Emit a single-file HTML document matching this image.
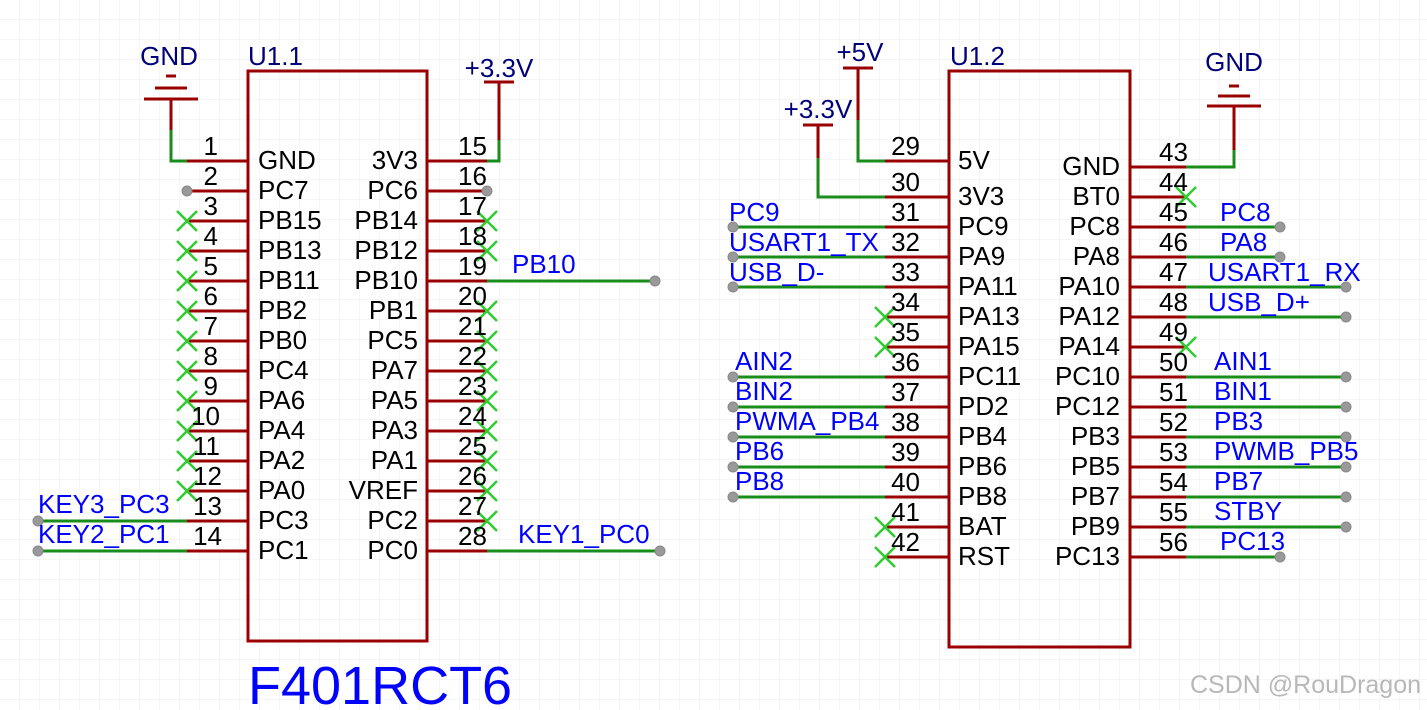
<!DOCTYPE html>
<html><head><meta charset="utf-8"><style>
html,body{margin:0;padding:0;background:#fff;}
svg{display:block;}
text{font-family:"Liberation Sans",sans-serif;}
.n{font-size:26px;fill:#000;}
.b{font-size:26px;fill:#0000ff;}
.p{font-size:26px;fill:#00007a;}
</style></head><body>
<svg width="1427" height="710" viewBox="0 0 1427 710" xmlns="http://www.w3.org/2000/svg">
<defs><pattern id="g" width="20" height="20" patternUnits="userSpaceOnUse"><path d="M20 0V20H0" fill="none" stroke="#ececec" stroke-width="1"/></pattern></defs>
<rect width="1427" height="710" fill="url(#g)"/>
<g stroke="#9b0000" stroke-width="3" fill="none">
<rect x="248" y="71" width="179" height="570"/>
<rect x="949" y="71" width="181" height="576"/>
<path d="M187 161H248M187 191H248M187 221H248M187 251H248M187 281H248M187 311H248M187 341H248M187 371H248M187 401H248M187 431H248M187 461H248M187 491H248M187 521H248M187 551H248"/>
<path d="M427 161H487M427 191H487M427 221H487M427 251H487M427 281H487M427 311H487M427 341H487M427 371H487M427 401H487M427 431H487M427 461H487M427 491H487M427 521H487M427 551H487"/>
<path d="M885 161H949M885 197H949M885 227H949M885 257H949M885 287H949M885 317H949M885 347H949M885 377H949M885 407H949M885 437H949M885 467H949M885 497H949M885 527H949M885 557H949"/>
<path d="M1130 167H1186M1130 197H1186M1130 227H1186M1130 257H1186M1130 287H1186M1130 317H1186M1130 347H1186M1130 377H1186M1130 407H1186M1130 437H1186M1130 467H1186M1130 497H1186M1130 527H1186M1130 557H1186"/>
<path d="M166 76H176M155 88H187M144 99H198M171 99V130"/>
<path d="M484 82H514M499 82V140"/>
<path d="M843 68H873M858 68V120"/>
<path d="M803 125H833M818 125V158"/>
<path d="M1229 86H1239M1218 96H1250M1207 106H1261M1234 106V150"/>
</g>
<g stroke="#1a8c1a" stroke-width="3" fill="none">
<path d="M171 130V161H187"/>
<path d="M499 140V161H487"/>
<path d="M858 120V161H885"/>
<path d="M818 158V197H885"/>
<path d="M1234 150V167H1186"/>
<path d="M38 521H187M38 551H187"/>
<path d="M487 281H655M487 551H660"/>
<path d="M733 227H885M733 257H885M733 287H885M733 377H885M733 407H885M733 437H885M733 467H885M733 497H885"/>
<path d="M1186 227H1280M1186 257H1280M1186 287H1346M1186 317H1346M1186 377H1346M1186 407H1346M1186 437H1346M1186 467H1346M1186 497H1346M1186 527H1346M1186 557H1280"/>
</g>
<g stroke="#2ecc2e" stroke-width="2.5">
<path d="M177 211l20 20m0-20l-20 20M177 241l20 20m0-20l-20 20M177 271l20 20m0-20l-20 20M177 301l20 20m0-20l-20 20M177 331l20 20m0-20l-20 20M177 361l20 20m0-20l-20 20M177 391l20 20m0-20l-20 20M177 421l20 20m0-20l-20 20M177 451l20 20m0-20l-20 20M177 481l20 20m0-20l-20 20"/>
<path d="M477 211l20 20m0-20l-20 20M477 241l20 20m0-20l-20 20M477 301l20 20m0-20l-20 20M477 331l20 20m0-20l-20 20M477 361l20 20m0-20l-20 20M477 391l20 20m0-20l-20 20M477 421l20 20m0-20l-20 20M477 451l20 20m0-20l-20 20M477 481l20 20m0-20l-20 20M477 511l20 20m0-20l-20 20"/>
<path d="M875 307l20 20m0-20l-20 20M875 337l20 20m0-20l-20 20M875 517l20 20m0-20l-20 20M875 547l20 20m0-20l-20 20"/>
<path d="M1176 187l20 20m0-20l-20 20M1176 337l20 20m0-20l-20 20"/>
</g>
<g fill="#999" stroke="#888" stroke-width="1">
<circle cx="187" cy="191" r="5"/><circle cx="487" cy="191" r="5"/>
<circle cx="38" cy="521" r="5"/><circle cx="38" cy="551" r="5"/>
<circle cx="655" cy="281" r="5"/><circle cx="660" cy="551" r="5"/>
<circle cx="733" cy="227" r="5"/><circle cx="733" cy="257" r="5"/><circle cx="733" cy="287" r="5"/>
<circle cx="733" cy="377" r="5"/><circle cx="733" cy="407" r="5"/><circle cx="733" cy="437" r="5"/><circle cx="733" cy="467" r="5"/><circle cx="733" cy="497" r="5"/>
<circle cx="1280" cy="227" r="5"/><circle cx="1280" cy="257" r="5"/><circle cx="1346" cy="287" r="5"/><circle cx="1346" cy="317" r="5"/>
<circle cx="1346" cy="377" r="5"/><circle cx="1346" cy="407" r="5"/><circle cx="1346" cy="437" r="5"/><circle cx="1346" cy="467" r="5"/><circle cx="1346" cy="497" r="5"/><circle cx="1346" cy="527" r="5"/><circle cx="1280" cy="557" r="5"/>
</g>
<g>
<text x="169" y="65" text-anchor="middle" class="p">GND</text>
<text x="499" y="77" text-anchor="middle" class="p">+3.3V</text>
<text x="860" y="61" text-anchor="middle" class="p">+5V</text>
<text x="818" y="118" text-anchor="middle" class="p">+3.3V</text>
<text x="1234" y="71" text-anchor="middle" class="p">GND</text>
<text x="248" y="65" class="p">U1.1</text>
<text x="950" y="65" class="p">U1.2</text>
</g>
<g class="n" text-anchor="end">
<text x="218" y="155">1</text><text x="218" y="185">2</text><text x="218" y="215">3</text><text x="218" y="245">4</text><text x="218" y="275">5</text><text x="218" y="305">6</text><text x="218" y="335">7</text><text x="218" y="365">8</text><text x="218" y="395">9</text><text x="220" y="425">10</text><text x="220" y="455">11</text><text x="222" y="485">12</text><text x="222" y="515">13</text><text x="222" y="545">14</text>
<text x="418" y="169">3V3</text><text x="418" y="199">PC6</text><text x="418" y="229">PB14</text><text x="418" y="259">PB12</text><text x="418" y="289">PB10</text><text x="418" y="319">PB1</text><text x="418" y="349">PC5</text><text x="418" y="379">PA7</text><text x="418" y="409">PA5</text><text x="418" y="439">PA3</text><text x="418" y="469">PA1</text><text x="418" y="499">VREF</text><text x="418" y="529">PC2</text><text x="418" y="559">PC0</text>
<text x="920" y="155">29</text><text x="920" y="191">30</text><text x="920" y="221">31</text><text x="920" y="251">32</text><text x="920" y="281">33</text><text x="920" y="311">34</text><text x="920" y="341">35</text><text x="920" y="371">36</text><text x="920" y="401">37</text><text x="920" y="431">38</text><text x="920" y="461">39</text><text x="920" y="491">40</text><text x="920" y="521">41</text><text x="920" y="551">42</text>
<text x="1120" y="175">GND</text><text x="1120" y="205">BT0</text><text x="1120" y="235">PC8</text><text x="1120" y="265">PA8</text><text x="1120" y="295">PA10</text><text x="1120" y="325">PA12</text><text x="1120" y="355">PA14</text><text x="1120" y="385">PC10</text><text x="1120" y="415">PC12</text><text x="1120" y="445">PB3</text><text x="1120" y="475">PB5</text><text x="1120" y="505">PB7</text><text x="1120" y="535">PB9</text><text x="1120" y="565">PC13</text>
</g>
<g class="n">
<text x="258" y="169">GND</text><text x="258" y="199">PC7</text><text x="258" y="229">PB15</text><text x="258" y="259">PB13</text><text x="258" y="289">PB11</text><text x="258" y="319">PB2</text><text x="258" y="349">PB0</text><text x="258" y="379">PC4</text><text x="258" y="409">PA6</text><text x="258" y="439">PA4</text><text x="258" y="469">PA2</text><text x="258" y="499">PA0</text><text x="258" y="529">PC3</text><text x="258" y="559">PC1</text>
<text x="458" y="155">15</text><text x="458" y="185">16</text><text x="458" y="215">17</text><text x="458" y="245">18</text><text x="458" y="275">19</text><text x="458" y="305">20</text><text x="458" y="335">21</text><text x="458" y="365">22</text><text x="458" y="395">23</text><text x="458" y="425">24</text><text x="458" y="455">25</text><text x="458" y="485">26</text><text x="458" y="515">27</text><text x="458" y="545">28</text>
<text x="958" y="169">5V</text><text x="958" y="205">3V3</text><text x="958" y="235">PC9</text><text x="958" y="265">PA9</text><text x="958" y="295">PA11</text><text x="958" y="325">PA13</text><text x="958" y="355">PA15</text><text x="958" y="385">PC11</text><text x="958" y="415">PD2</text><text x="958" y="445">PB4</text><text x="958" y="475">PB6</text><text x="958" y="505">PB8</text><text x="958" y="535">BAT</text><text x="958" y="565">RST</text>
<text x="1159" y="161">43</text><text x="1159" y="191">44</text><text x="1159" y="221">45</text><text x="1159" y="251">46</text><text x="1159" y="281">47</text><text x="1159" y="311">48</text><text x="1159" y="341">49</text><text x="1159" y="371">50</text><text x="1159" y="401">51</text><text x="1159" y="431">52</text><text x="1159" y="461">53</text><text x="1159" y="491">54</text><text x="1159" y="521">55</text><text x="1159" y="551">56</text>
</g>
<g class="b">
<text x="38" y="513">KEY3_PC3</text><text x="38" y="543">KEY2_PC1</text>
<text x="512" y="273">PB10</text><text x="518" y="543">KEY1_PC0</text>
<text x="729" y="221">PC9</text><text x="729" y="251">USART1_TX</text><text x="729" y="281">USB_D-</text>
<text x="735" y="370">AIN2</text><text x="735" y="400">BIN2</text><text x="735" y="430">PWMA_PB4</text><text x="735" y="460">PB6</text><text x="735" y="490">PB8</text>
<text x="1220" y="221">PC8</text><text x="1220" y="251">PA8</text><text x="1208" y="281">USART1_RX</text><text x="1208" y="311">USB_D+</text>
<text x="1214" y="370">AIN1</text><text x="1214" y="400">BIN1</text><text x="1214" y="430">PB3</text><text x="1214" y="460">PWMB_PB5</text><text x="1214" y="490">PB7</text><text x="1214" y="520">STBY</text><text x="1220" y="550">PC13</text>
</g>
<text x="248" y="704" style="font-size:54px;fill:#0000ff;">F401RCT6</text>
<text x="1190" y="693" style="font-size:25px;fill:#b8b8b8;">CSDN @RouDragon</text>
</svg>
</body></html>
